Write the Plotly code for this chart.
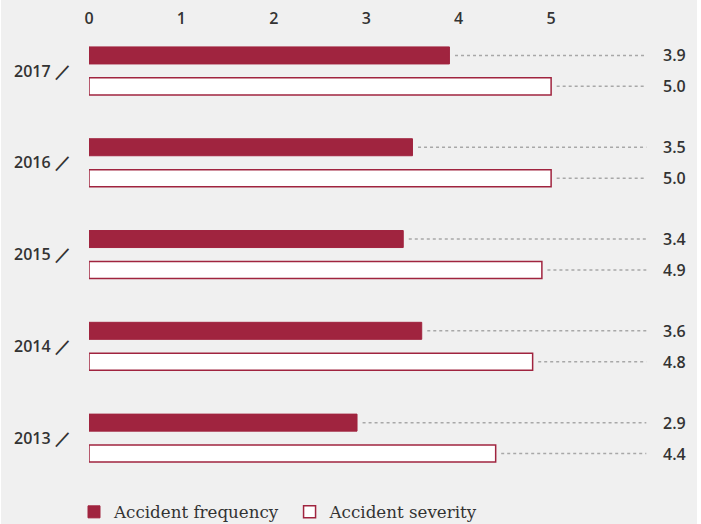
import plotly.graph_objects as go

years = ["2017", "2016", "2015", "2014", "2013"]
frequency = [3.9, 3.5, 3.4, 3.6, 2.9]
severity = [5.0, 5.0, 4.9, 4.8, 4.4]
x_ticks = [0, 1, 2, 3, 4, 5]

RED = "#a0243f"
BG = "#f0f0f0"
W, H = 701, 524
ML, MR, MT, MB = 89, 2, 25, 40
XMAX = 6.6

idx = list(range(len(years)))
bargap = 0.326
slot = (1 - bargap) / 2
off = slot / 2

fig = go.Figure()
fig.add_trace(go.Bar(
    y=idx, x=frequency, orientation="h", name="Accident frequency\u00a0",
    marker=dict(color=RED, line=dict(color=RED, width=1)),
    hoverinfo="skip",
))
fig.add_trace(go.Bar(
    y=idx, x=severity, orientation="h", name="Accident severity",
    marker=dict(color="white", line=dict(color=RED, width=1.5)),
    hoverinfo="skip",
))

line_end = 6.03
label_x = 6.48
for i, (f, s) in enumerate(zip(frequency, severity)):
    for v, dy in ((f, -off), (s, off)):
        fig.add_shape(type="line", xref="x", yref="y",
                      x0=v + 0.06, x1=line_end, y0=i + dy, y1=i + dy,
                      line=dict(color="#a8a8a8", width=1.5, dash="dot"))
        fig.add_annotation(x=label_x, y=i + dy, xref="x", yref="y",
                           text=f"{v:.1f}", showarrow=False, xanchor="right",
                           font=dict(family="Open Sans", size=16, color="#333", weight=600))

pw = W - ML - MR
ph = H - MT - MB
# gray panel background
fig.add_shape(type="rect", xref="paper", yref="paper", layer="below",
              x0=(1 - ML) / pw, x1=(697 - ML) / pw,
              y0=-(MB + 5) / ph, y1=1 + (MT + 5) / ph,
              line=dict(width=0), fillcolor=BG)

fig.update_layout(
    width=W, height=H,
    margin=dict(l=ML, r=MR, t=MT, b=MB),
    paper_bgcolor="white", plot_bgcolor="rgba(0,0,0,0)",
    barmode="group", bargap=bargap, bargroupgap=0.45,
    showlegend=True,
    legend=dict(orientation="h", xref="container", x=74 / W, xanchor="left",
                yref="container", y=(H - 512) / H, yanchor="middle",
                font=dict(family="DejaVu Serif", size=16.7, color="#333"),
                bgcolor="rgba(0,0,0,0)", traceorder="normal"),
    xaxis=dict(range=[0, XMAX], side="top", tickvals=x_ticks,
               ticktext=[str(t) for t in x_ticks], showgrid=False, zeroline=False,
               showline=False, ticks="", ticklen=0, ticklabelstandoff=-3,
               tickfont=dict(family="Open Sans", size=16, color="#333", weight=600)),
    yaxis=dict(range=[len(years) - 0.5, -0.5], tickvals=idx,
               ticktext=[f"{y} ／" for y in years], showgrid=False, zeroline=False,
               showline=False, ticks="outside", ticklen=14, tickcolor="rgba(0,0,0,0)",
               tickfont=dict(family="Open Sans", size=16, color="#333", weight=600)),
)

fig.write_html("out.html", config={"displayModeBar": False},
               post_script="document.body.style.margin='0';")
